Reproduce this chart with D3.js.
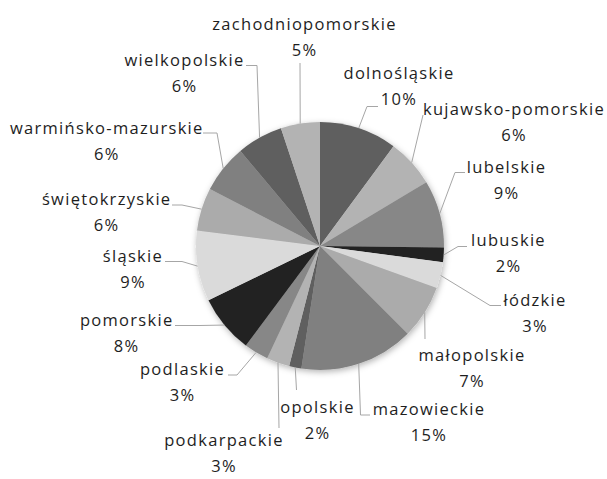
<!DOCTYPE html>
<html>
<head>
<meta charset="utf-8">
<script src="https://cdn.jsdelivr.net/npm/d3@7"></script>
<style>
  html, body { margin: 0; padding: 0; background: #fff; }
  svg { display: block; }
  .lbl { font-family: "Open Sans", sans-serif; font-size: 16.5px; letter-spacing: 1.3px; fill: #1e1e1e; }
</style>
</head>
<body>
<svg id="chart" width="607" height="479"></svg>
<script>
// Voivodeships, clockwise from 12 o'clock
const regions = [
  "dolnośląskie", "kujawsko-pomorskie", "lubelskie", "lubuskie", "łódzkie",
  "małopolskie", "mazowieckie", "opolskie", "podkarpackie", "podlaskie",
  "pomorskie", "śląskie", "świętokrzyskie", "warmińsko-mazurskie",
  "wielkopolskie", "zachodniopomorskie"
];

// Share of the total, in percent
const shares = [10.1, 6.3, 8.8, 1.9, 3.4, 7.0, 14.9, 1.6, 3.0, 3.2, 7.6, 9.2, 5.6, 6.3, 6.0, 5.1];

// Grey fill cycle for the slices
const greys = ["#5e5e5e", "#b3b3b3", "#878787", "#232323", "#dadada", "#ababab", "#808080"];

// Label placement: name centre x, name baseline y, leader bend/end points
const labelLayout = [
  { x: 399,   y: 79,    leader: [[367, 106.5], [378, 106.5]] },
  { x: 514,   y: 115,   leader: [[423, 115]] },
  { x: 506.5, y: 173,   leader: [[455, 172.5], [465, 172.5]] },
  { x: 508.5, y: 246,   leader: [[458, 246.5], [467, 246.5]] },
  { x: 535,   y: 306,   leader: [[490, 305.5], [501, 305.5]] },
  { x: 472,   y: 361,   leader: [[425, 339]] },
  { x: 429,   y: 414.5, leader: [[360.5, 415], [370, 415]] },
  { x: 317.5, y: 412.5, leader: [[296.5, 390]] },
  { x: 224,   y: 446,   leader: [[279, 428]] },
  { x: 182.5, y: 374.5, leader: [[237, 375], [228, 375]] },
  { x: 126.7, y: 326,   leader: [[200, 325.5], [175, 325.5]] },
  { x: 133,   y: 261.5, leader: [[182, 261.5], [165, 261.5]] },
  { x: 106.7, y: 205,   leader: [[182, 205], [172, 205]] },
  { x: 106.8, y: 134,   leader: [[217, 133], [203, 133]] },
  { x: 184.5, y: 66,    leader: [[257, 65.5], [246, 65.5]] },
  { x: 304.5, y: 30,    leader: [[300, 63]] }
];

const cx = 320, cy = 246, radius = 124, lineGap = 26;

const svg = d3.select("#chart");

const defs = svg.append("defs");
const shadow = defs.append("filter").attr("id", "pieShadow")
  .attr("x", "-20%").attr("y", "-20%").attr("width", "140%").attr("height", "140%");
shadow.append("feDropShadow")
  .attr("dx", 1).attr("dy", 2).attr("stdDeviation", 3)
  .attr("flood-color", "#000").attr("flood-opacity", 0.3);

const total = d3.sum(shares);
const pct = d3.format(".0%");
const colour = d3.scaleOrdinal().domain(d3.range(regions.length)).range(greys);

const pie = d3.pie().sort(null).value(d => d.value);
const arcs = pie(regions.map((name, i) => ({ name, value: shares[i], i })));

const arc = d3.arc().innerRadius(0).outerRadius(radius);
const rim = d3.arc().innerRadius(radius).outerRadius(radius);

const g = svg.append("g").attr("transform", `translate(${cx},${cy})`);

g.append("g").attr("filter", "url(#pieShadow)")
  .selectAll("path")
  .data(arcs)
  .join("path")
  .attr("d", arc)
  .attr("fill", d => colour(d.data.i));

// Leader lines from the slice rim to each label
const line = d3.line();
svg.append("g")
  .selectAll("path")
  .data(arcs)
  .join("path")
  .attr("d", d => {
    const [ex, ey] = rim.centroid(d);
    return line([[cx + ex, cy + ey], ...labelLayout[d.data.i].leader]);
  })
  .attr("fill", "none")
  .attr("stroke", "#a6a6a6")
  .attr("stroke-width", 1);

// Two-line labels: name and share
const labels = svg.append("g")
  .selectAll("text")
  .data(arcs)
  .join("text")
  .attr("class", "lbl")
  .attr("text-anchor", "middle")
  .attr("x", d => labelLayout[d.data.i].x)
  .attr("y", d => labelLayout[d.data.i].y);

labels.append("tspan").text(d => d.data.name);
labels.append("tspan")
  .attr("x", d => labelLayout[d.data.i].x)
  .attr("dy", lineGap)
  .text(d => pct(d.data.value / total));
</script>
</body>
</html>
